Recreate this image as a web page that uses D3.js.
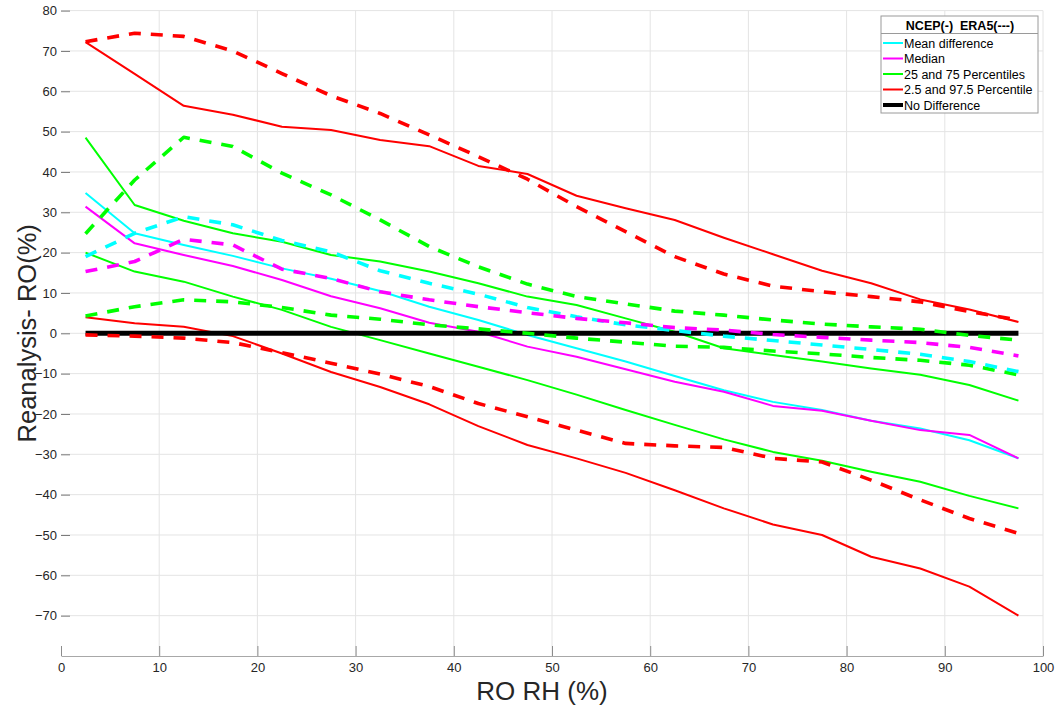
<!DOCTYPE html>
<html>
<head>
<meta charset="utf-8">
<script src="https://cdn.jsdelivr.net/npm/d3@7/dist/d3.min.js"></script>
<style>
  html, body { margin: 0; padding: 0; background: #fff; }
  svg { display: block; font-family: "Liberation Sans", Arial, Helvetica, sans-serif; }
</style>
</head>
<body>
<svg id="chart" width="1055" height="707"></svg>
<script>
// RO relative-humidity bins (bin centres, %)
const rhBins = [2.5, 7.5, 12.5, 17.5, 22.5, 27.5, 32.5, 37.5, 42.5, 47.5,
                52.5, 57.5, 62.5, 67.5, 72.5, 77.5, 82.5, 87.5, 92.5, 97.5];

// NCEP minus RO statistics (%)
const ncepMean   = [34.8, 24.8, 21.9, 19.2, 16.1, 13.5, 10.5, 6.6, 3.3, -0.4, -3.7, -7.0, -10.6, -14.1, -17.0, -19.0, -21.7, -23.6, -26.5, -31.0];
const ncepMedian = [31.4, 22.3, 19.4, 16.7, 13.2, 9.2, 6.2, 2.6, 0.4, -3.3, -5.8, -8.9, -12.0, -14.5, -18.0, -19.2, -21.7, -24.0, -25.2, -31.0];
const ncepP25    = [20.0, 15.3, 12.8, 9.1, 5.8, 1.6, -1.7, -5.0, -8.3, -11.6, -15.2, -19.0, -22.7, -26.3, -29.4, -31.6, -34.3, -36.8, -40.3, -43.4];
const ncepP75    = [48.5, 31.8, 27.9, 24.8, 22.7, 19.4, 17.8, 15.3, 12.4, 9.1, 7.0, 3.7, 0.4, -3.7, -5.4, -7.0, -8.7, -10.3, -12.8, -16.7];
const ncepP2_5   = [4.0, 2.5, 1.6, -0.7, -5.0, -9.6, -13.3, -17.6, -23.0, -27.7, -31.0, -34.6, -38.9, -43.4, -47.4, -50.0, -55.4, -58.3, -62.8, -70.0];
const ncepP97_5  = [72.2, 64.3, 56.4, 54.2, 51.2, 50.4, 47.9, 46.4, 41.5, 39.5, 34.1, 31.0, 28.1, 23.7, 19.6, 15.5, 12.4, 8.4, 5.9, 2.8];

// ERA5 minus RO statistics (%)
const era5Mean   = [19.0, 24.8, 28.9, 26.9, 23.0, 20.2, 15.5, 12.4, 9.7, 6.4, 4.1, 2.1, 0.7, -0.7, -1.8, -2.9, -4.0, -5.2, -7.0, -9.5];
const era5Median = [15.3, 17.8, 23.3, 21.9, 15.9, 13.6, 10.3, 8.3, 6.6, 5.1, 3.7, 2.6, 1.4, 0.8, -0.3, -1.0, -1.7, -2.3, -3.5, -5.6];
const era5P25    = [4.3, 6.6, 8.3, 7.8, 6.4, 4.5, 3.5, 2.1, 1.1, 0.0, -1.2, -2.2, -3.2, -3.5, -4.4, -5.1, -6.0, -6.7, -7.9, -10.3];
const era5P75    = [24.7, 38.0, 48.6, 46.3, 39.7, 34.3, 28.1, 21.5, 16.5, 12.2, 9.1, 7.3, 5.5, 4.5, 3.3, 2.3, 1.6, 1.0, -0.5, -1.7];
const era5P2_5   = [-0.4, -0.7, -1.2, -2.3, -4.8, -7.4, -10.1, -13.2, -17.4, -20.7, -24.0, -27.3, -27.9, -28.3, -31.0, -31.9, -36.4, -41.3, -45.9, -49.6];
const era5P97_5  = [72.3, 74.4, 73.6, 70.0, 64.4, 58.9, 54.5, 49.2, 43.8, 38.2, 31.4, 25.2, 19.0, 14.7, 11.7, 10.3, 9.1, 7.8, 5.4, 3.3];

// zero-difference reference
const zeroLine = rhBins.map(() => 0);

// axis ticks
const xTicks = [0, 10, 20, 30, 40, 50, 60, 70, 80, 90, 100];
const yTicks = [-70, -60, -50, -40, -30, -20, -10, 0, 10, 20, 30, 40, 50, 60, 70, 80];

// legend
const legendTitle = "NCEP(-)  ERA5(---)";
const legendLabels = ["Mean difference", "Median", "25 and 75 Percentiles", "2.5 and 97.5 Percentile", "No Difference"];
const legendColors = ["#00ffff", "#ff00ff", "#00ff00", "#ff0000", "#000000"];

const svg = d3.select("#chart");
const plot = { left: 61, right: 1043, top: 10.6, bottom: 656 };

const x = d3.scaleLinear().domain([0, 100]).range([plot.left, plot.right]);
const y = d3.scaleLinear().domain([-80, 80]).range([plot.bottom, plot.top]);

// grid
const grid = svg.append("g");
grid.selectAll(".gx").data(xTicks.filter(d => d > 0)).join("line")
  .attr("x1", d => x(d)).attr("x2", d => x(d))
  .attr("y1", plot.top).attr("y2", plot.bottom)
  .attr("stroke", "#e4e4e4").attr("stroke-width", 1);
grid.selectAll(".gy").data(yTicks).join("line")
  .attr("x1", plot.left).attr("x2", plot.right)
  .attr("y1", d => y(d)).attr("y2", d => y(d))
  .attr("stroke", "#e4e4e4").attr("stroke-width", 1);

// axes
const xAxis = svg.append("g")
  .attr("transform", `translate(0,${plot.bottom})`)
  .call(d3.axisBottom(x).tickValues(xTicks).tickSize(-10).tickPadding(7).tickSizeOuter(0));
xAxis.select(".domain").attr("stroke", "#a8a8a8");
xAxis.selectAll(".tick line").attr("stroke", "#8c8c8c");
xAxis.selectAll(".tick text").attr("fill", "#262626").attr("font-size", 13)
  .style("font-family", "'Liberation Sans', Arial, sans-serif");

const yAxis = svg.append("g")
  .attr("transform", `translate(${plot.left},0)`)
  .call(d3.axisLeft(y).tickValues(yTicks).tickSize(-9).tickPadding(4));
yAxis.select(".domain").remove();
yAxis.selectAll(".tick line").attr("stroke", "#7a7a7a");
yAxis.selectAll(".tick text").attr("fill", "#262626").attr("font-size", 13)
  .style("font-family", "'Liberation Sans', Arial, sans-serif");

// axis titles
svg.append("text")
  .attr("x", 542).attr("y", 700)
  .attr("text-anchor", "middle").attr("font-size", 26).attr("fill", "#262626")
  .text("RO RH (%)");
svg.append("text")
  .attr("transform", `translate(36,${y(0)}) rotate(-90)`)
  .attr("text-anchor", "middle").attr("font-size", 25.5).attr("fill", "#262626")
  .text("Reanalysis- RO(%)");

const line = d3.line().x((d, i) => x(rhBins[i])).y(d => y(d));

function drawSeries(values, color, dashed) {
  svg.append("path")
    .datum(values)
    .attr("d", line)
    .attr("fill", "none")
    .attr("stroke", color)
    .attr("stroke-width", dashed ? 3.6 : 2)
    .attr("stroke-dasharray", dashed ? "12,10" : null)
    .attr("stroke-linejoin", "round");
}

// NCEP (solid)
drawSeries(ncepP97_5, "#ff0000", false);
drawSeries(ncepP2_5, "#ff0000", false);
drawSeries(ncepP75, "#00ff00", false);
drawSeries(ncepP25, "#00ff00", false);
drawSeries(ncepMean, "#00ffff", false);
drawSeries(ncepMedian, "#ff00ff", false);

// no difference
svg.append("path")
  .datum(zeroLine)
  .attr("d", line)
  .attr("fill", "none")
  .attr("stroke", "#000")
  .attr("stroke-width", 5);

// ERA5 (dashed)
drawSeries(era5P97_5, "#ff0000", true);
drawSeries(era5P2_5, "#ff0000", true);
drawSeries(era5P75, "#00ff00", true);
drawSeries(era5P25, "#00ff00", true);
drawSeries(era5Mean, "#00ffff", true);
drawSeries(era5Median, "#ff00ff", true);

// legend
const lg = svg.append("g").attr("transform", "translate(881,16)");
lg.append("rect").attr("width", 157).attr("height", 97)
  .attr("fill", "#fff").attr("stroke", "#9a9a9a").attr("stroke-width", 1);
lg.append("text").attr("x", 79).attr("y", 13.5)
  .attr("text-anchor", "middle").attr("font-size", 12.5).attr("font-weight", "bold")
  .attr("fill", "#000").style("white-space", "pre").text(legendTitle);
lg.append("line").attr("x1", 0).attr("x2", 157).attr("y1", 17.5).attr("y2", 17.5)
  .attr("stroke", "#9a9a9a");
const items = lg.selectAll(".item").data(legendLabels).join("g")
  .attr("transform", (d, i) => `translate(0,${27 + i * 15.5})`);
items.append("line").attr("x1", 2).attr("x2", 22).attr("y1", 0).attr("y2", 0)
  .attr("stroke", (d, i) => legendColors[i])
  .attr("stroke-width", (d, i) => i === 4 ? 4 : 2);
items.append("text").attr("x", 23).attr("y", 4.5)
  .attr("font-size", 12.5).attr("fill", "#000").text(d => d);
</script>
</body>
</html>
